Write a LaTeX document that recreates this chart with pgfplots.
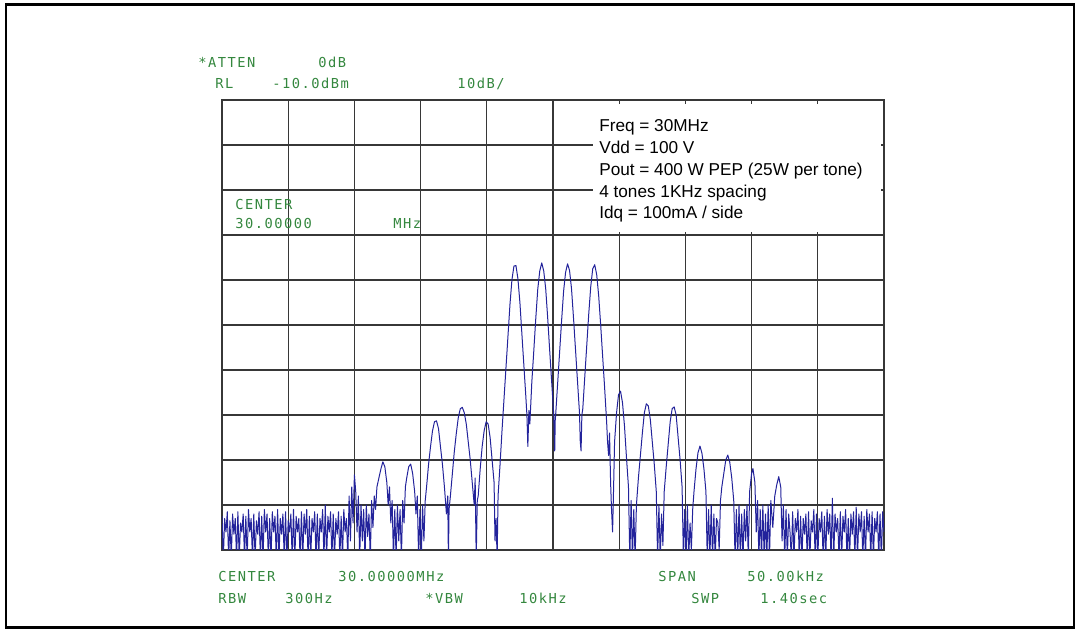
\documentclass[border=0pt]{standalone}
\usepackage{pgfplots}
\pgfplotsset{compat=1.18}
\usepackage{fontspec}
\setmainfont{Liberation Sans}
\newfontfamily\hp{DejaVu Sans Mono}[LetterSpace=11]
\definecolor{hpgreen}{RGB}{52,135,62}
\definecolor{trace}{RGB}{35,35,155}
\definecolor{gridc}{RGB}{55,55,55}
\begin{document}
\begin{tikzpicture}[x=0.75pt,y=0.75pt]
\path[use as bounding box] (0,0) rectangle (1080,631);
\draw[line width=1.7pt] (6.2,3.5) rectangle (1074,626.5);
\begin{axis}[
  at={(166.5pt,60.75pt)}, anchor=south west,
  width=496.5pt, height=337.5pt, scale only axis,
  xmin=-25, xmax=25, ymin=-110, ymax=-10,
  xtick={-20,-15,...,20}, ytick={-100,-90,...,-20},
  xticklabels={}, yticklabels={}, major tick length=0pt,
  grid=major, major grid style={line width=0.85pt, color=gridc},
  axis line style={line width=0.85pt, color=gridc},
  clip=true,
]
\addplot[trace, line width=0.75pt, mark=none, line join=round] coordinates {
(-25.0,-102.5)(-24.9,-112)(-24.8,-103)(-24.7,-106)(-24.6,-101.5)(-24.5,-112)(-24.4,-103.5)(-24.3,-112)
(-24.2,-102)(-24.1,-106.5)(-24.0,-103)(-23.9,-112)(-23.8,-101.5)(-23.7,-112)(-23.6,-104)(-23.5,-106)
(-23.4,-102)(-23.3,-112)(-23.2,-102.5)(-23.1,-112)(-23.0,-101)(-22.9,-106)(-22.8,-103)(-22.7,-112)
(-22.6,-102)(-22.5,-112)(-22.4,-103.5)(-22.3,-106.5)(-22.2,-101.5)(-22.1,-112)(-22.0,-102.5)(-21.9,-112)
(-21.8,-101)(-21.7,-106)(-21.6,-102)(-21.5,-112)(-21.4,-103)(-21.3,-112)(-21.2,-101.5)(-21.1,-106)
(-21.0,-102.5)(-20.9,-112)(-20.8,-101)(-20.7,-112)(-20.6,-103)(-20.5,-106.5)(-20.4,-102)(-20.3,-112)
(-20.2,-101.5)(-20.1,-112)(-20.0,-103.5)(-19.9,-106)(-19.8,-102)(-19.7,-112)(-19.6,-101)(-19.5,-112)
(-19.4,-102.5)(-19.3,-106)(-19.2,-103)(-19.1,-112)(-19.0,-101.5)(-18.9,-112)(-18.8,-102)(-18.7,-106.5)
(-18.6,-101)(-18.5,-112)(-18.4,-102.5)(-18.3,-112)(-18.2,-103)(-18.1,-106)(-18.0,-101.5)(-17.9,-112)
(-17.8,-102)(-17.7,-112)(-17.6,-103)(-17.5,-106)(-17.4,-101)(-17.3,-112)(-17.2,-100)(-17.1,-112)
(-17.0,-102.5)(-16.9,-106)(-16.8,-101.5)(-16.7,-112)(-16.6,-102)(-16.5,-112)(-16.4,-103)(-16.3,-106.5)
(-16.2,-101.5)(-16.1,-112)(-16.0,-102.5)(-15.9,-112)(-15.8,-101)(-15.7,-106)
(-15.6,-103)(-15.5,-112)(-15.4,-98)(-15.3,-108)(-15.2,-96)(-15.1,-104)(-15.0,-93.3)(-14.9,-97)
(-14.8,-106)(-14.7,-98)(-14.6,-112)(-14.5,-100)(-14.4,-108)(-14.3,-101)(-14.2,-112)(-14.1,-100)
(-14.0,-107)(-13.9,-102)(-13.8,-112)(-13.7,-99)(-13.6,-105)(-13.5,-98)(-13.4,-101)(-13.3,-96)
(-13.15,-94)(-13.0,-92)(-12.85,-90.4)(-12.7,-91.5)(-12.55,-95)(-12.45,-100)(-12.35,-96)(-12.25,-104)
(-12.15,-99)(-12.05,-112)(-11.95,-101)(-11.85,-112)(-11.75,-100)(-11.65,-108)(-11.55,-101)(-11.45,-112)
(-11.35,-99)(-11.25,-104)(-11.15,-96)(-11.05,-94)(-10.9,-91.5)(-10.75,-90.9)(-10.6,-93)(-10.45,-97)
(-10.35,-102)(-10.25,-98)(-10.15,-112)(-10.05,-101)(-9.95,-112)(-9.85,-100)(-9.75,-108)(-9.65,-99)
(-9.55,-96)(-9.40,-91)(-9.25,-87)(-9.10,-83.5)(-8.95,-81.5)(-8.80,-81.3)(-8.65,-83)(-8.50,-87)
(-8.35,-91)(-8.20,-96)(-8.05,-102)(-7.95,-98)(-7.90,-112)(-7.85,-101)(-7.75,-98)(-7.60,-93)
(-7.45,-88)(-7.30,-84)(-7.15,-80.5)(-7.00,-78.6)(-6.85,-78.3)(-6.70,-79.5)(-6.55,-82)(-6.40,-86)
(-6.25,-90)(-6.10,-95)(-5.95,-100)(-5.88,-94)(-5.80,-112)(-5.72,-99)(-5.65,-98)(-5.50,-92)
(-5.35,-87)(-5.20,-83.5)(-5.05,-81.5)(-4.90,-82)(-4.75,-85)(-4.60,-90)(-4.45,-95)(-4.38,-108)
(-4.30,-103)(-4.22,-112)(-4.15,-98)(-4.00,-91)(-3.85,-83.4)(-3.70,-76.4)(-3.55,-69.4)(-3.40,-62.4)
(-3.25,-55.4)(-3.10,-49.9)(-2.95,-46.9)(-2.80,-46.8)(-2.65,-49.7)(-2.50,-55)(-2.35,-62)(-2.20,-69)
(-2.05,-76)(-1.97,-80)(-1.90,-87)(-1.82,-79)(-1.75,-82)(-1.60,-72.7)(-1.45,-65.7)(-1.30,-58.5)
(-1.15,-52)(-1.00,-48)(-0.85,-46.2)(-0.70,-48)(-0.55,-52)(-0.40,-58.5)(-0.25,-65.7)(-0.10,-72.7)
(0.05,-79.7)(0.10,-84)(0.13,-88)(0.17,-81)(0.20,-80)(0.35,-73)(0.50,-66)(0.65,-59)
(0.80,-52.5)(0.95,-48.3)(1.10,-46.4)(1.25,-47.9)(1.40,-52)(1.55,-58.5)(1.70,-65.5)(1.85,-72.5)
(2.00,-79.5)(2.06,-86)(2.12,-88)(2.18,-80)(2.25,-78.6)(2.40,-71.5)(2.55,-64.5)(2.70,-57.5)
(2.85,-51.5)(3.00,-47.5)(3.15,-46.6)(3.30,-48.8)(3.45,-53.5)(3.60,-60)(3.75,-67)(3.90,-74)
(4.05,-81.5)(4.12,-86)(4.20,-89)(4.27,-84)(4.35,-95)(4.42,-101)(4.50,-106)(4.57,-97)
(4.65,-86)(4.80,-79.5)(4.95,-75.5)(5.10,-74.7)(5.25,-77.3)(5.40,-82.5)(5.55,-89.5)(5.70,-96)
(5.80,-112)(5.90,-99)(6.00,-112)(6.10,-101)(6.20,-112)(6.30,-100)(6.45,-94)(6.60,-89)
(6.75,-84)(6.90,-79.5)(7.05,-77.5)(7.20,-78)(7.35,-81)(7.50,-86)(7.65,-91)(7.80,-97)
(7.90,-112)(8.00,-100)(8.10,-112)(8.20,-102)(8.30,-109)(8.40,-97)(8.55,-91.5)(8.70,-86.5)
(8.85,-81.5)(9.00,-78.6)(9.15,-78.2)(9.30,-80)(9.45,-85)(9.60,-90)(9.75,-96)(9.85,-112)
(9.95,-101)(10.05,-112)(10.15,-100)(10.25,-112)(10.35,-104)(10.45,-110)(10.55,-101)(10.65,-97)
(10.80,-92)(10.95,-88.4)(11.10,-86.9)(11.25,-88.5)(11.40,-92)(11.55,-97)(11.65,-112)(11.75,-101)
(11.85,-112)(11.95,-100)(12.05,-112)(12.15,-102)(12.25,-112)(12.35,-103)(12.45,-104)(12.55,-110)
(12.65,-99)(12.75,-96)(12.90,-93)(13.05,-90)(13.20,-88.9)(13.35,-90.5)(13.50,-94)(13.65,-99)
(13.75,-112)(13.85,-101)(13.95,-112)(14.05,-100)(14.15,-112)(14.25,-102)(14.35,-112)(14.45,-101)
(14.55,-108)(14.65,-100)(14.75,-112)(14.85,-97)(15.00,-93)(15.10,-91.9)(15.25,-95)(15.35,-106)
(15.45,-99)(15.55,-112)(15.65,-101)(15.75,-112)(15.85,-100)(15.95,-112)(16.05,-102)(16.15,-112)
(16.25,-100)(16.35,-112)(16.45,-99)(16.60,-105)(16.75,-98)(16.90,-95.5)(17.05,-93.7)(17.20,-96)
(17.30,-108)(17.40,-100)(17.50,-112)(17.60,-101)(17.70,-112)(17.80,-102)(17.90,-106)(18.00,-112)
(18.1,-101.5)(18.2,-112)(18.3,-103)(18.4,-106)(18.5,-101)(18.6,-112)(18.7,-102.5)(18.8,-112)
(18.9,-103)(19.0,-106.5)(19.1,-102)(19.2,-112)(19.3,-101.5)(19.4,-112)(19.5,-103.5)(19.6,-106)
(19.7,-101)(19.8,-112)(19.9,-102)(20.0,-112)(20.1,-103)(20.2,-106)(20.3,-101.5)(20.4,-112)
(20.5,-102.5)(20.6,-112)(20.7,-101)(20.8,-106.5)(20.9,-102)(21.0,-112)(21.1,-98.5)(21.2,-112)
(21.3,-102)(21.4,-106)(21.5,-103)(21.6,-112)(21.7,-101.5)(21.8,-112)(21.9,-102.5)(22.0,-106)
(22.1,-101)(22.2,-112)(22.3,-103)(22.4,-112)(22.5,-102)(22.6,-106.5)(22.7,-101.5)(22.8,-112)
(22.9,-100.5)(23.0,-112)(23.1,-102)(23.2,-106)(23.3,-101.5)(23.4,-112)(23.5,-102.5)(23.6,-112)
(23.7,-101)(23.8,-106)(23.9,-102)(24.0,-112)(24.1,-101.5)(24.2,-112)(24.3,-103)(24.4,-106)
(24.5,-101.5)(24.6,-112)(24.7,-102)(24.8,-112)(24.9,-101.5)(25.0,-106)
};
\end{axis}
% white info box
\fill[white] (593,399) rectangle (880.5,527);
\begin{scope}[every node/.style={inner sep=0pt, anchor=base west, font=\fontsize{12.9pt}{15pt}\selectfont}]
\node at (599,499) {Freq = 30MHz};
\node at (599,477.3) {Vdd = 100 V};
\node at (599,455.6) {Pout = 400 W PEP (25W per tone)};
\node at (599,433.9) {4 tones 1KHz spacing};
\node at (599,412.2) {Idq = 100mA / side};
\end{scope}
\begin{scope}[every node/.style={inner sep=0pt, anchor=base west, text=hpgreen, font=\hp\fontsize{10.3pt}{12pt}\selectfont}]
\node at (198,563) {*ATTEN};
\node at (318,563) {0dB};
\node at (215,542) {RL};
\node at (272,542) {-10.0dBm};
\node at (457,542) {10dB/};
\node at (235,421) {CENTER};
\node at (235,402) {30.00000};
\node at (393,402) {MHz};
\node at (218,50) {CENTER};
\node at (338,50) {30.00000MHz};
\node at (658,50) {SPAN};
\node at (747,50) {50.00kHz};
\node at (218,27) {RBW};
\node at (285,27) {300Hz};
\node at (425,27) {*VBW};
\node at (519,27) {10kHz};
\node at (691,27) {SWP};
\node at (760,27) {1.40sec};
\end{scope}
\end{tikzpicture}
\end{document}
